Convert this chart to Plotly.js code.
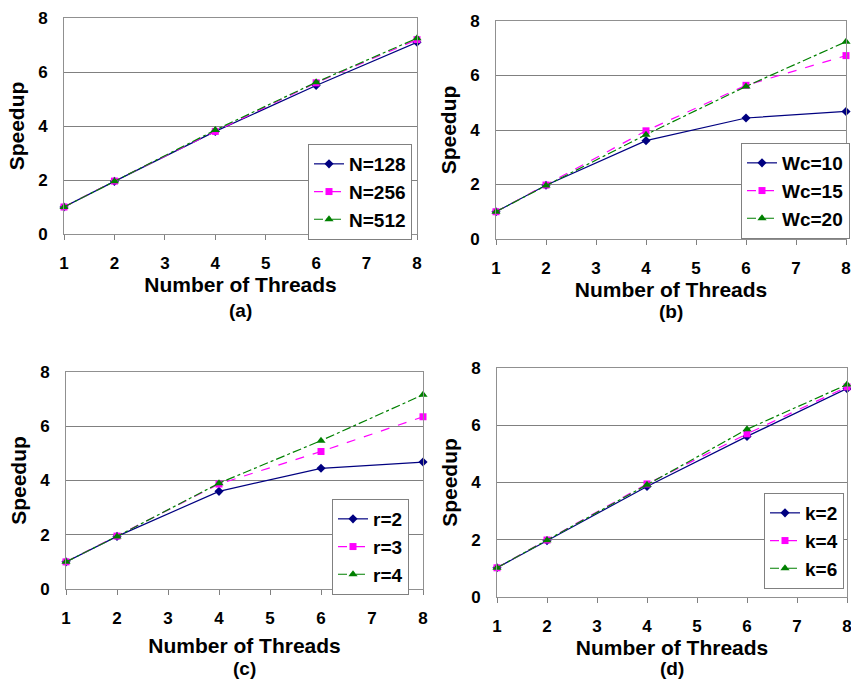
<!DOCTYPE html>
<html>
<head>
<meta charset="utf-8">
<script src="https://cdn.plot.ly/plotly-3.0.1.min.js"></script>
<style>html,body{margin:0;padding:0;background:#fff;}#chart{width:851px;height:680px;}</style>
</head>
<body>
<div id="chart"></div>
<script>
// ---- data ----
const threads = [1, 2, 4, 6, 8];
const xTickVals = [1, 2, 3, 4, 5, 6, 7, 8];
const yTickVals = [0, 2, 4, 6, 8];

const a_names = ["N=128", "N=256", "N=512"];
const a_N128 = [1, 1.95, 3.80, 5.50, 7.10];
const a_N256 = [1, 1.96, 3.80, 5.60, 7.20];
const a_N512 = [1, 1.95, 3.85, 5.62, 7.25];

const b_names = ["Wc=10", "Wc=15", "Wc=20"];
const b_Wc10 = [1, 1.97, 3.61, 4.44, 4.68];
const b_Wc15 = [1, 1.98, 3.97, 5.64, 6.73];
const b_Wc20 = [1, 1.96, 3.83, 5.60, 7.24];

const c_names = ["r=2", "r=3", "r=4"];
const c_r2 = [1, 1.94, 3.60, 4.45, 4.68];
const c_r3 = [1, 1.95, 3.87, 5.07, 6.35];
const c_r4 = [1, 1.94, 3.90, 5.47, 7.16];

const d_names = ["k=2", "k=4", "k=6"];
const d_k2 = [1.02, 1.97, 3.86, 5.61, 7.28];
const d_k4 = [1.02, 1.99, 3.95, 5.70, 7.34];
const d_k6 = [1.02, 1.98, 3.92, 5.86, 7.42];

const panelLabels = ["(a)", "(b)", "(c)", "(d)"];
const xTitle = "Number of Threads";
const yTitle = "Speedup";

// ---- styles ----
const FONT = "Liberation Sans, Arial, sans-serif";
const styles = [
  {color: "#000080", dash: "solid", symbol: "diamond", size: 7},
  {color: "#FF00FF", dash: "dash", symbol: "square", size: 7},
  {color: "#008000", dash: "dashdot", symbol: "triangle-up", size: 8}
];

const panels = [
  {names: a_names, series: [a_N128, a_N256, a_N512]},
  {names: b_names, series: [b_Wc10, b_Wc15, b_Wc20]},
  {names: c_names, series: [c_r2, c_r3, c_r4]},
  {names: d_names, series: [d_k2, d_k4, d_k6]}
];

// pixel boxes (left, right, top, bottom)
const W = 851, H = 680;
const boxes = [
  [64, 417, 18, 234],
  [496, 846, 21, 239],
  [66, 423, 372, 589],
  [497, 847, 368, 597]
];
const legendPos = [
  [308, 144], [741, 143], [332, 499], [764, 493]
];
const labelY = [310, 311, 668, 668];
const xStandoff = [4, 4, 10, 4];

const traces = [];
const layout = {
  width: W, height: H,
  margin: {l: 0, r: 0, t: 0, b: 0},
  paper_bgcolor: "#fff", plot_bgcolor: "#fff",
  font: {family: FONT, color: "#000"},
  annotations: [],
  showlegend: true
};

panels.forEach((p, i) => {
  const n = i + 1;
  const xa = n === 1 ? "x" : "x" + n;
  const ya = n === 1 ? "y" : "y" + n;
  const lg = n === 1 ? "legend" : "legend" + n;
  p.series.forEach((s, j) => {
    const st = styles[j];
    traces.push({
      x: threads, y: s, name: p.names[j],
      xaxis: xa, yaxis: ya, legend: lg,
      type: "scatter", mode: "lines+markers", cliponaxis: false,
      line: {color: st.color, width: 1.2, dash: st.dash},
      marker: {color: st.color, symbol: st.symbol, size: st.size, line: {width: 0}}
    });
  });
  const b = boxes[i];
  const xkey = n === 1 ? "xaxis" : "xaxis" + n;
  const ykey = n === 1 ? "yaxis" : "yaxis" + n;
  layout[xkey] = {
    domain: [b[0] / W, b[1] / W], anchor: ya,
    range: [1, 8], tickvals: xTickVals, ticktext: xTickVals.map(String),
    ticks: "outside", ticklen: 5, tickcolor: "#808080", tickwidth: 1,
    ticklabelstandoff: 9, ticklabeloverflow: "allow",
    showline: true, linecolor: "#909090", linewidth: 1, mirror: true,
    showgrid: false, zeroline: false, fixedrange: true,
    tickfont: {family: FONT, size: 17, color: "#000", weight: "bold"},
    title: {text: "<b>" + xTitle + "</b>", font: {family: FONT, size: 21, color: "#000"}, standoff: xStandoff[i]}
  };
  layout[ykey] = {
    domain: [(H - b[3]) / H, (H - b[2]) / H], anchor: xa,
    range: [0, 8], tickvals: yTickVals,
    ticks: "", ticklabelstandoff: 12, ticklabeloverflow: "allow",
    showline: true, linecolor: "#909090", linewidth: 1, mirror: true,
    showgrid: true, gridcolor: "#808080", gridwidth: 1, zeroline: false, fixedrange: true,
    tickfont: {family: FONT, size: 17, color: "#000", weight: "bold"},
    title: {text: "<b>" + yTitle + "</b>", font: {family: FONT, size: 21, color: "#000"}, standoff: 7}
  };
  const lp = legendPos[i];
  layout[lg] = {
    x: lp[0] / W, y: (H - lp[1]) / H, xanchor: "left", yanchor: "top",
    xref: "paper", yref: "paper",
    bgcolor: "#fff", bordercolor: "#808080", borderwidth: 1,
    font: {family: FONT, size: 19, color: "#000", weight: "bold"},
    tracegroupgap: 0, itemwidth: 30, traceorder: "normal"
  };
  layout.annotations.push({
    text: "<b>" + panelLabels[i] + "</b>", xref: "paper", yref: "paper",
    x: ((b[0] + b[1]) / 2) / W, y: (H - labelY[i]) / H,
    xanchor: "center", yanchor: "middle", showarrow: false,
    font: {family: FONT, size: 19, color: "#000"}
  });
});

Plotly.newPlot("chart", traces, layout, {staticPlot: true, displayModeBar: false});
</script>
</body>
</html>
